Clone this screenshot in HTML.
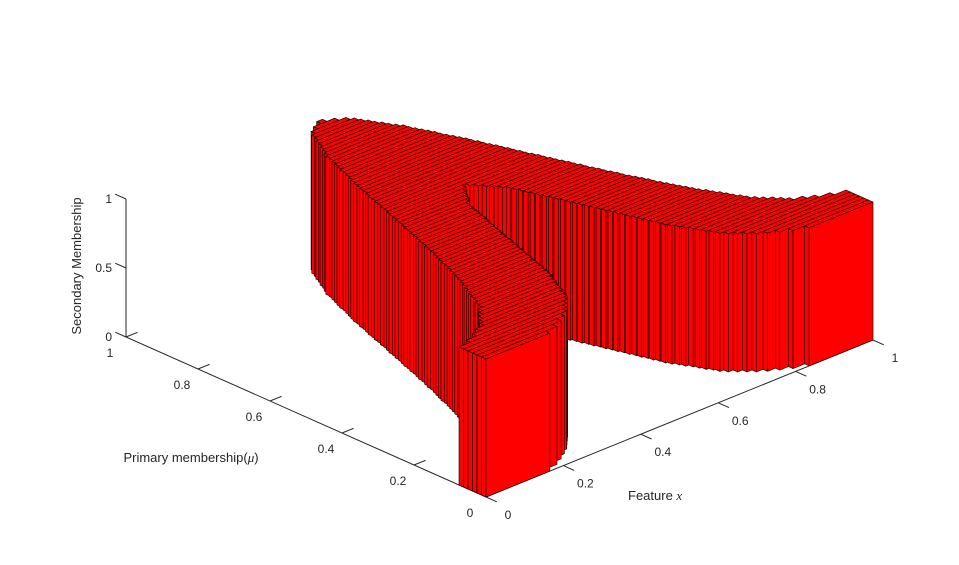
<!DOCTYPE html>
<html><head><meta charset="utf-8"><style>
html,body{margin:0;padding:0;background:#fff;}
svg text{font-family:"Liberation Sans",sans-serif;fill:#262626;}
</style></head><body>
<svg id="chart" width="959" height="560" viewBox="0 0 959 560" xmlns="http://www.w3.org/2000/svg">
<rect width="959" height="560" fill="#fff"/>
<g id="axes"></g>
<g id="bars"></g>
<g id="labels">
<text x="0" y="0" font-size="13" text-anchor="middle" transform="translate(81,266) rotate(-90)">Secondary Membership</text>
<text x="191" y="462" font-size="13" text-anchor="middle">Primary membership(<tspan font-family="Liberation Serif" font-style="italic">μ</tspan>)</text>
<text x="628" y="500" font-size="13">Feature  <tspan font-family="Liberation Serif" font-style="italic">x</tspan></text>
</g>
</svg>
<script>
// data
const xGrid = [0,0.05,0.1,0.15,0.2,0.25,0.3,0.35,0.4,0.45,0.5,0.55,0.6,0.65,0.7,0.75,0.8,0.85,0.9,0.95,1];
const upperMF = [0.07,0.09,0.12,0.18,0.283,0.416,0.571,0.73,0.869,0.966,1,0.966,0.869,0.73,0.571,0.416,0.283,0.18,0.12,0.09,0.07];
const lowerMF = [0,0,0,0,0.02,0.05,0.1,0.204,0.372,0.532,0.6,0.532,0.372,0.204,0.1,0.05,0.02,0,0,0,0];
const secondaryGrade = [1];
const xTicks = [0,0.2,0.4,0.6,0.8,1];
const xTickLabels = ['0','0.2','0.4','0.6','0.8','1'];
const muTicks = [0,0.2,0.4,0.6,0.8,1];
const muTickLabels = ['0','0.2','0.4','0.6','0.8','1'];
const zTicks = [0,0.5,1];
const zTickLabels = ['0','0.5','1'];
const nSlabs = 80;

const NS='http://www.w3.org/2000/svg';
const O=[486,497], VX=[387,-157], VM=[-360,-160], VZ=[0,-138];
function P(x,m,z){return [O[0]+x*VX[0]+m*VM[0]+z*VZ[0], O[1]+x*VX[1]+m*VM[1]+z*VZ[1]];}
function interp(arr,x){
  if(x<=xGrid[0])return arr[0];
  for(let i=1;i<xGrid.length;i++){ if(x<=xGrid[i]){const t=(x-xGrid[i-1])/(xGrid[i]-xGrid[i-1]);return arr[i-1]+t*(arr[i]-arr[i-1]);} }
  return arr[arr.length-1];
}
function poly(g,pts,fill,name){
  const p=document.createElementNS(NS,'polygon');
  p.setAttribute('points',pts.map(q=>q[0].toFixed(2)+','+q[1].toFixed(2)).join(' '));
  p.setAttribute('fill',fill);p.setAttribute('stroke','#000');p.setAttribute('stroke-width','0.6');p.setAttribute('stroke-linejoin','round');
  
  
  g.appendChild(p);
}
function line(g,a,b,name,w){
  const l=document.createElementNS(NS,'line');
  l.setAttribute('x1',a[0]);l.setAttribute('y1',a[1]);l.setAttribute('x2',b[0]);l.setAttribute('y2',b[1]);
  l.setAttribute('stroke','#262626');l.setAttribute('stroke-width',w||1);
  
  
  g.appendChild(l);
}
function text(g,pos,s,anchor,name){
  const t=document.createElementNS(NS,'text');
  t.setAttribute('x',pos[0]);t.setAttribute('y',pos[1]);t.setAttribute('font-size','12');t.setAttribute('text-anchor',anchor);
  t.textContent=s;
  
  
  g.appendChild(t);
}
// axes
const ax=document.getElementById('axes');
line(ax,P(0,1,0),P(0,1,1),'z-axis-line');
line(ax,P(0,0,0),P(0,1,0),'mu-axis-line');
line(ax,P(0,0,0),P(1,0,0),'x-axis-line');
xTicks.forEach((v,i)=>{const a=P(v,0,0),b=P(v,-0.03,0);line(ax,a,b,'x-tick');text(ax,[a[0]+22,a[1]+22],xTickLabels[i],'middle','x-tick-label');});
muTicks.forEach((v,i)=>{const a=P(0,v,0),b=P(0.03,v,0);line(ax,a,b,'mu-tick');text(ax,[a[0]-16,a[1]+20],muTickLabels[i],'middle','mu-tick-label');});
zTicks.forEach((v,i)=>{const a=P(0,1,v),b=P(0,1.03,v);line(ax,a,b,'z-tick');text(ax,[a[0]-14,a[1]+4],zTickLabels[i],'end','z-tick-label');});
// slabs
const g=document.getElementById('bars');
const dm=1/nSlabs, N=400;
for(let j=nSlabs-1;j>=0;j--){
  const m0=j*dm,m1=(j+1)*dm,mc=(j+0.5)*dm;
  const runs=[];let start=null;
  for(let k=0;k<=N;k++){
    const x=k/N, inside=interp(lowerMF,x)<=mc && interp(upperMF,x)>=mc;
    if(inside&&start===null)start=x;
    if((!inside||k===N)&&start!==null){runs.push([start,inside?x:(k-1)/N]);start=null;}
  }
  const h=secondaryGrade[0];
  for(let r=runs.length-1;r>=0;r--){
    const [x0,x1]=runs[r];
    poly(g,[P(x0,m0,h),P(x1,m0,h),P(x1,m1,h),P(x0,m1,h)],'#ff0000','slab-top');
    poly(g,[P(x0,m0,0),P(x0,m1,0),P(x0,m1,h),P(x0,m0,h)],'#ff0000','slab-left-face');
    poly(g,[P(x0,m0,0),P(x1,m0,0),P(x1,m0,h),P(x0,m0,h)],'#ff0000','slab-front-face');
  }
}
</script>
</body></html>
